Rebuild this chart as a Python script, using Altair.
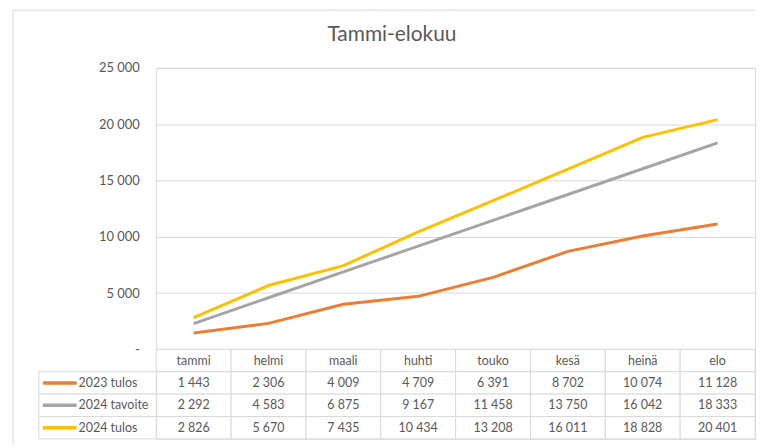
import altair as alt
import pandas as pd

months = ["tammi", "helmi", "maali", "huhti", "touko", "kesä", "heinä", "elo"]
series = ["2023 tulos", "2024 tavoite", "2024 tulos"]
tulos_2023 = [1443, 2306, 4009, 4709, 6391, 8702, 10074, 11128]
tavoite_2024 = [2292, 4583, 6875, 9167, 11458, 13750, 16042, 18333]
tulos_2024 = [2826, 5670, 7435, 10434, 13208, 16011, 18828, 20401]
colors = ["#ED7D31", "#A5A5A5", "#FFC000"]
y_ticks = [0, 5000, 10000, 15000, 20000, 25000]
title_text = "Tammi-elokuu"

values = {"2023 tulos": tulos_2023, "2024 tavoite": tavoite_2024, "2024 tulos": tulos_2024}

FONT = "Lato"
TXT = "#595959"
GRID = "#D9D9D9"
W, H, TH = 602, 283, 90

rows = []
for s in series:
    for m, v in zip(months, values[s]):
        rows.append({"month": m, "series": s, "value": v,
                     "label": f"{v:,}".replace(",", " ")})
long_df = pd.DataFrame(rows)

header_df = pd.DataFrame({"month": months, "row": ["hdr"] * len(months), "label": months})
body_df = long_df.rename(columns={"series": "row"})[["month", "row", "label"]]
table_df = pd.concat([header_df, body_df], ignore_index=True)
legend_df = pd.DataFrame({"row": series})

color_scale = alt.Scale(domain=series, range=colors)
row_domain = ["hdr"] + series

# ---------------- top line chart ----------------
lines = alt.Chart(long_df).mark_line(strokeWidth=3).encode(
    x=alt.X("month:O", sort=months, scale=alt.Scale(type="point", padding=0.5), axis=None),
    y=alt.Y("value:Q", scale=alt.Scale(domain=[0, 25000]),
            axis=alt.Axis(values=y_ticks, title=None, domain=False, ticks=False,
                          labelPadding=17, labelFont=FONT, labelFontSize=13, labelColor=TXT,
                          gridColor=GRID, gridWidth=1,
                          labelExpr="datum.value == 0 ? '-\u00a0\u00a0\u00a0' : replace(format(datum.value, ','), regexp(',', 'g'), ' ')")),
    color=alt.Color("series:N", scale=color_scale, legend=None),
)

blank = alt.Data(values=[{"a": 1}])
frame_top = alt.Chart(blank).mark_rule(color=GRID, strokeWidth=1).encode(
    x=alt.value(-144), x2=alt.value(W), y=alt.value(-58))
frame_left = alt.Chart(blank).mark_rule(color=GRID, strokeWidth=1).encode(
    x=alt.value(-144), y=alt.value(-58), y2=alt.value(H))
title = alt.Chart(blank).mark_text(text=title_text, font=FONT, fontSize=21, color=TXT,
                                   align="center", baseline="alphabetic").encode(
    x=alt.value(237), y=alt.value(-27))

top = alt.layer(frame_top, frame_left, title, lines).properties(width=W, height=H)

# ---------------- data table ----------------
xband = alt.X("month:N", sort=months, scale=alt.Scale(type="band", paddingInner=0, paddingOuter=0), axis=None)
yband = alt.Y("row:N", sort=row_domain, scale=alt.Scale(type="band", domain=row_domain, paddingInner=0, paddingOuter=0), axis=None)
yband_c = alt.Y("row:N", sort=row_domain, bandPosition=0.5,
                scale=alt.Scale(type="band", domain=row_domain, paddingInner=0, paddingOuter=0), axis=None)

cells = alt.Chart(table_df).mark_rect(fill="white", stroke=GRID, strokeWidth=1).encode(x=xband, y=yband)
cell_text = alt.Chart(table_df).mark_text(font=FONT, fontSize=12.5, color=TXT, align="center", baseline="middle").encode(
    x=xband, y=yband_c, text="label:N")

leg_cells = alt.Chart(legend_df).mark_rect(fill="white", stroke=GRID, strokeWidth=1).encode(
    x=alt.value(-118), x2=alt.value(0), y=yband)
leg_swatch = alt.Chart(legend_df).mark_rule(strokeWidth=3.5).encode(
    x=alt.value(-114), x2=alt.value(-80), y=yband_c,
    color=alt.Color("row:N", scale=color_scale, legend=None))
leg_text = alt.Chart(legend_df).mark_text(font=FONT, fontSize=12.5, color=TXT, align="left", baseline="middle").encode(
    x=alt.value(-78), y=yband_c, text="row:N")
frame_left2 = alt.Chart(blank).mark_rule(color=GRID, strokeWidth=1).encode(
    x=alt.value(-144), y=alt.value(0), y2=alt.value(96))

table = alt.layer(frame_left2, cells, cell_text, leg_cells, leg_swatch, leg_text).properties(width=W, height=TH)

chart = alt.vconcat(top, table, spacing=0, bounds="flush").resolve_scale(color="shared").properties(
    padding={"left": 4, "top": 0, "right": 0, "bottom": 0}
).configure_view(strokeWidth=0).configure(background="white")

chart.save("out.html", embed_options={"renderer": "svg", "actions": False})
